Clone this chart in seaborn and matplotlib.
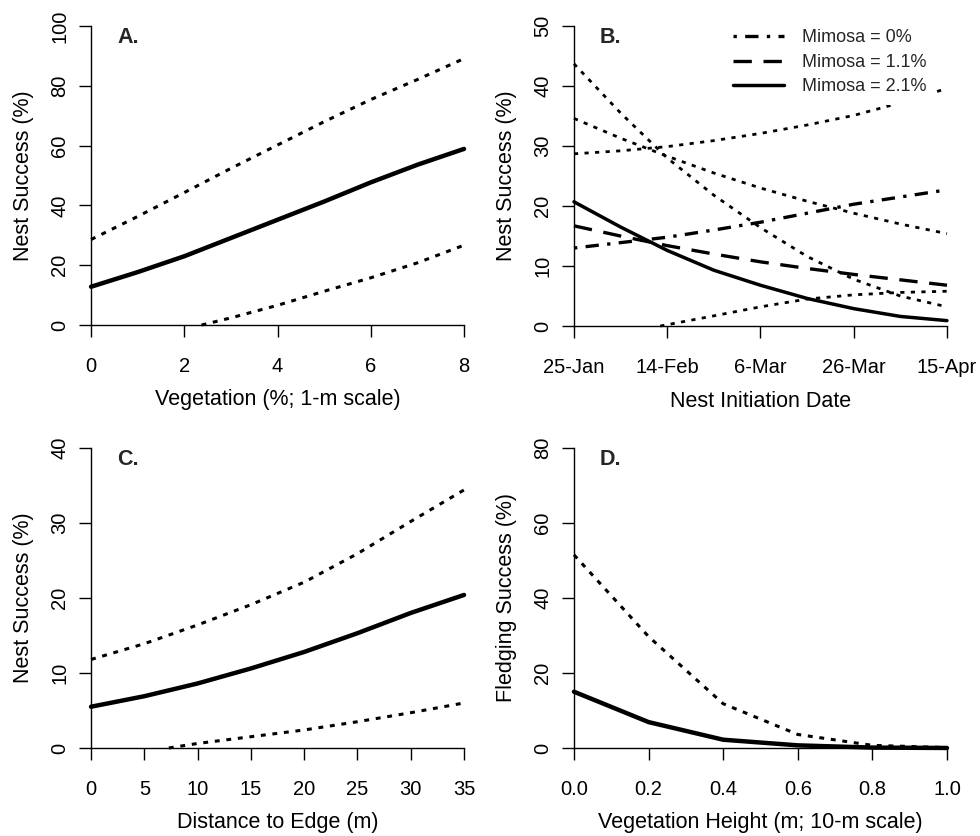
import matplotlib
matplotlib.use("Agg")
import matplotlib.pyplot as plt
import seaborn as sns

sns.set_theme(style="ticks")
plt.rcParams["font.family"] = ["Liberation Sans", "DejaVu Sans"]

# Panel A: nest success vs vegetation (1-m scale)
veg_x = [0, 1, 2, 3, 4, 5, 6, 7, 8]
veg_mean = [12.8, 17.7, 23.0, 29.1, 35.2, 41.3, 47.7, 53.6, 58.9]
veg_upper = [28.6, 36.3, 44.3, 52.4, 60.2, 68.0, 75.4, 82.1, 89.1]
veg_lower_x = [2.37, 3, 4, 5, 6, 7, 8]
veg_lower = [0.0, 2.4, 6.6, 11.3, 15.8, 20.8, 26.7]

# Panel B: nest success vs initiation date (days after 25-Jan), by mimosa cover
date_days = [0, 10, 20, 30, 40, 50, 60, 70, 80]
date_ticks = [0, 20, 40, 60, 80]
date_labels = ["25-Jan", "14-Feb", "6-Mar", "26-Mar", "15-Apr"]
mimosa_labels = ["Mimosa = 0%", "Mimosa = 1.1%", "Mimosa = 2.1%"]
mimosa0_mean = [13.0, 13.9, 14.8, 16.0, 17.3, 18.8, 20.3, 21.5, 22.7]
mimosa0_upper = [28.7, 29.2, 29.9, 30.9, 32.1, 33.5, 35.1, 37.2, 39.6]
mimosa0_lower_x = [18.5, 30, 40, 50, 60, 70, 80]
mimosa0_lower = [0.0, 1.7, 3.2, 4.5, 5.2, 5.6, 5.8]
mimosa1_mean = [16.7, 15.0, 13.4, 12.0, 10.7, 9.6, 8.6, 7.7, 6.8]
mimosa1_upper = [34.6, 31.3, 28.3, 25.5, 23.0, 20.8, 18.8, 17.0, 15.4]
mimosa2_mean = [20.7, 16.5, 12.6, 9.3, 6.8, 4.6, 2.9, 1.6, 0.9]
mimosa2_upper = [43.7, 35.5, 28.0, 21.8, 16.4, 11.6, 7.8, 5.0, 3.2]

# Panel C: nest success vs distance to edge
edge_x = [0, 5, 10, 15, 20, 25, 30, 35]
edge_mean = [5.5, 6.9, 8.6, 10.6, 12.8, 15.3, 18.0, 20.4]
edge_upper = [11.8, 13.9, 16.4, 19.1, 22.1, 25.9, 30.2, 34.4]
edge_lower_x = [7.3, 10, 15, 20, 25, 30, 35]
edge_lower = [0.0, 0.6, 1.5, 2.4, 3.5, 4.7, 6.0]

# Panel D: fledging success vs vegetation height (10-m scale)
height_x = [0.0, 0.2, 0.4, 0.6, 0.8, 1.0]
height_labels = ["0.0", "0.2", "0.4", "0.6", "0.8", "1.0"]
height_mean = [15.0, 6.9, 2.2, 0.7, 0.1, 0.0]
height_upper = [51.5, 29.7, 11.8, 3.6, 0.7, 0.1]

DOT = (0, (1.6, 2.2))
DOT_THIN = (0, (1.5, 2.3))
DOTDASH = (0, (1, 2.5, 4, 2.5))
DASH = (0, (5.5, 3.5))


def style_axes(ax, xmax, ymax, xticks, yticks, xlabel, ylabel, letter, xticklabels=None):
    ax.set_xlim(0, xmax)
    ax.set_ylim(0, ymax)
    sns.despine(ax=ax)
    ax.spines["left"].set_bounds(0, ymax)
    ax.spines["bottom"].set_bounds(0, xmax)
    for side in ["left", "bottom"]:
        ax.spines[side].set_linewidth(1.0)
        ax.spines[side].set_color("black")
    ax.set_xticks(xticks)
    if xticklabels is not None:
        ax.set_xticklabels(xticklabels)
    ax.set_yticks(yticks)
    ax.tick_params(direction="out", length=8.6, width=1.0, color="black",
                   labelsize=14.5, labelcolor="black")
    ax.tick_params(axis="x", pad=14.5)
    ax.tick_params(axis="y", pad=7, labelrotation=90)
    plt.setp(ax.get_yticklabels(), va="center")
    ax.set_xlabel(xlabel, fontsize=15.5, color="black")
    ax.set_ylabel(ylabel, fontsize=15.5, color="black")
    ax.xaxis.set_label_coords(0.5, -0.215)
    ax.yaxis.set_label_coords(-0.153, 0.5)
    ax.text(0.07, 0.995, letter, transform=ax.transAxes, fontsize=15.5,
            fontweight="bold", ha="left", va="top")
    ax.set_facecolor("white")


fig = plt.figure(figsize=(9.8, 8.36), dpi=100)
ax_a = fig.add_axes([0.0929, 0.6112, 0.3806, 0.3577])
ax_b = fig.add_axes([0.5857, 0.6100, 0.3806, 0.3589])
ax_c = fig.add_axes([0.0929, 0.1053, 0.3806, 0.3589])
ax_d = fig.add_axes([0.5857, 0.1053, 0.3806, 0.3589])

line_kw = dict(color="black", clip_on=False)

# A
sns.lineplot(x=veg_x, y=veg_upper, ax=ax_a, lw=2.2, linestyle=DOT, **line_kw)
sns.lineplot(x=veg_lower_x, y=veg_lower, ax=ax_a, lw=2.2, linestyle=DOT, **line_kw)
sns.lineplot(x=veg_x, y=veg_mean, ax=ax_a, lw=3.2, **line_kw)
style_axes(ax_a, 8, 100, [0, 2, 4, 6, 8], [0, 20, 40, 60, 80, 100],
           "Vegetation (%; 1-m scale)", "Nest Success (%)", "A.")

# B
for upper in [mimosa0_upper, mimosa1_upper, mimosa2_upper]:
    sns.lineplot(x=date_days, y=upper, ax=ax_b, lw=2.0, linestyle=DOT_THIN, **line_kw)
sns.lineplot(x=mimosa0_lower_x, y=mimosa0_lower, ax=ax_b, lw=2.0, linestyle=DOT_THIN, **line_kw)
sns.lineplot(x=date_days, y=mimosa0_mean, ax=ax_b, lw=2.4, linestyle=DOTDASH,
             label=mimosa_labels[0], **line_kw)
sns.lineplot(x=date_days, y=mimosa1_mean, ax=ax_b, lw=2.4, linestyle=DASH,
             label=mimosa_labels[1], **line_kw)
sns.lineplot(x=date_days, y=mimosa2_mean, ax=ax_b, lw=2.5,
             label=mimosa_labels[2], **line_kw)
style_axes(ax_b, 80, 50, date_ticks, [0, 10, 20, 30, 40, 50],
           "Nest Initiation Date", "Nest Success (%)", "B.", xticklabels=date_labels)
leg = ax_b.legend(loc="upper left", bbox_to_anchor=(0.3995, 1.022), borderaxespad=0,
                  frameon=True, facecolor="white", edgecolor="none", framealpha=1,
                  fontsize=13, handlelength=2.85, handletextpad=0.95,
                  labelspacing=0.42, borderpad=0.55, fancybox=False)
leg.set_zorder(5)

# C
sns.lineplot(x=edge_x, y=edge_upper, ax=ax_c, lw=2.2, linestyle=DOT, **line_kw)
sns.lineplot(x=edge_lower_x, y=edge_lower, ax=ax_c, lw=2.2, linestyle=DOT, **line_kw)
sns.lineplot(x=edge_x, y=edge_mean, ax=ax_c, lw=3.2, **line_kw)
style_axes(ax_c, 35, 40, [0, 5, 10, 15, 20, 25, 30, 35], [0, 10, 20, 30, 40],
           "Distance to Edge (m)", "Nest Success (%)", "C.")

# D
sns.lineplot(x=height_x, y=height_upper, ax=ax_d, lw=2.2, linestyle=DOT, **line_kw)
sns.lineplot(x=height_x, y=height_mean, ax=ax_d, lw=3.2, **line_kw)
style_axes(ax_d, 1.0, 80, height_x, [0, 20, 40, 60, 80],
           "Vegetation Height (m; 10-m scale)", "Fledging Success (%)", "D.",
           xticklabels=height_labels)

fig.savefig("out.png", dpi=100, facecolor="white")
